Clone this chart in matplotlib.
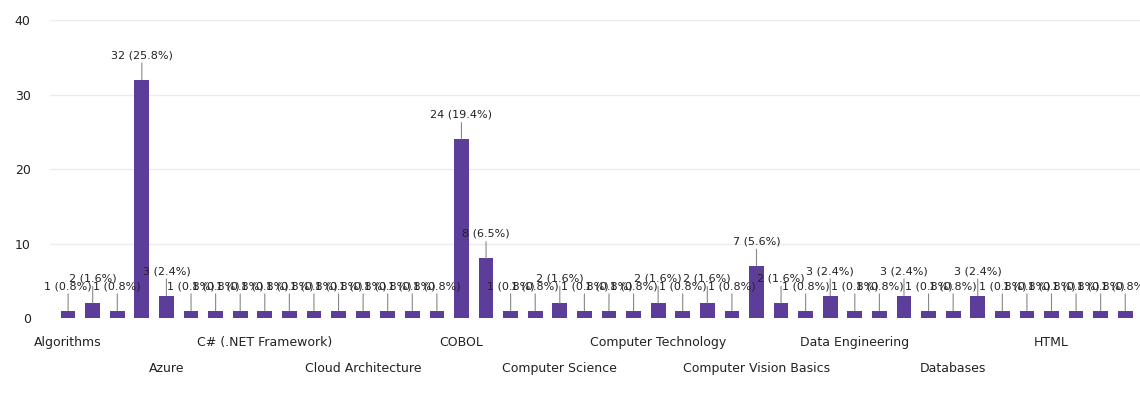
import matplotlib
matplotlib.use("Agg")
import matplotlib.pyplot as plt

plt.rcParams['font.family'] = ['DejaVu Sans']

# 每个技能的出现次数
skills = ["Algorithms", "Android", "Angular", "APIs", "Azure", "Bash", "Big Data", "Blockchain",
          "C# (.NET Framework)", "C++", "CI/CD", "Cloud", "Cloud Architecture", "Cloud Security",
          "Clustering", "CMS", "COBOL", "Compilers", "Computer Graphics", "Computer Networks",
          "Computer Science", "Computer Security", "Computer Support", "Computer Systems",
          "Computer Technology", "Computer Theory", "Computer Tools", "Computer Vision",
          "Computer Vision Basics", "Concurrency", "Containers", "CSS", "Data Engineering",
          "Data Mining", "Data Science", "Data Structures", "Databases", "Deep Learning",
          "DevOps", "Docker", "HTML", "Java", "JavaScript", "Kotlin"]
counts = [1, 2, 1, 32, 3, 1, 1, 1, 1, 1, 1, 1, 1, 1, 1, 1, 24, 8, 1, 1, 2, 1,
          1, 1, 2, 1, 2, 1, 7, 2, 1, 3, 1, 1, 3, 1, 1, 3, 1, 1, 1, 1, 1, 1]
y_ticks = [0, 10, 20, 30, 40]


def draw_chart(names, values):
    total = sum(values)
    fig = plt.figure(figsize=(11.4, 4.01), dpi=100)
    ax = fig.add_axes([0.044, 0.207, 0.956, 0.743])
    pos = list(range(len(names)))
    ax.bar(pos, values, width=0.6, color="#5d3d9a", zorder=2)

    # 数值标签 + 引线
    for i, v in enumerate(values):
        ax.annotate("%d (%.1f%%)" % (v, v * 100.0 / total), xy=(i, v), xytext=(0, 14),
                    textcoords="offset points", ha="center", va="bottom",
                    fontsize=8, color="#222222", annotation_clip=False,
                    arrowprops=dict(arrowstyle="-", color="#888888", lw=0.8,
                                    shrinkA=0, shrinkB=0))

    # 横坐标每4个显示一个，上下两行交错
    row1 = pos[0::8]
    row2 = pos[4::8]
    ax.set_xticks(row1)
    ax.set_xticklabels([names[i] for i in row1], fontsize=9, color="#222222")
    ax.set_xticks(row2, minor=True)
    ax.set_xticklabels([names[i] for i in row2], minor=True, fontsize=9, color="#222222")
    ax.tick_params(axis="x", which="major", length=0, pad=13)
    ax.tick_params(axis="x", which="minor", length=0, pad=32)

    ax.set_ylim(0, 40)
    ax.set_yticks(y_ticks)
    ax.tick_params(axis="y", length=0, labelsize=9, labelcolor="#222222", pad=14)
    ax.set_xlim(-0.73, len(names) - 0.4)
    ax.grid(axis="y", color="#ececec", lw=1, zorder=0)
    for s in ax.spines.values():
        s.set_visible(False)

    fig.savefig("out.png", dpi=100)


def main():
    draw_chart(skills, counts)


if __name__ == '__main__':
    main()
